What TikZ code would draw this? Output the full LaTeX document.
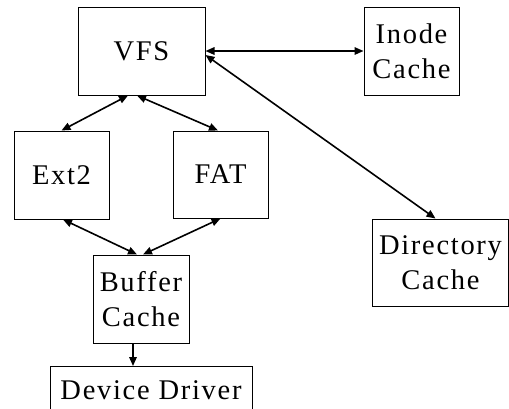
\documentclass[tikz,border=0pt]{standalone}
\usepackage{fontspec}
\setmainfont{Liberation Serif}[LetterSpace=6]
\usetikzlibrary{arrows.meta,calc}

\begin{document}
\begin{tikzpicture}[x=1pt,y=-1pt,
  font=\fontsize{28.5}{35}\selectfont,
  box/.style={draw, line width=1pt, inner sep=0pt, align=center},
  link/.style={line width=1.6pt},
  >={Triangle[length=9pt,width=7.5pt]}]
  \useasboundingbox (0,0) rectangle (509,408);
  \clip (0,0) rectangle (509,408);

  % boxes
  \node[box, minimum width=127pt, minimum height=88pt] (vfs)   at (141.5,51)    {VFS};
  \node[box, minimum width=95pt,  minimum height=88pt] (inode) at (411.5,51)    {Inode\\Cache};
  \node[box, minimum width=95pt,  minimum height=88pt] (ext)   at (61.5,175)    {Ext2};
  \node[box, minimum width=95pt,  minimum height=87pt] (fat)   at (220.5,174.5) {FAT};
  \node[box, minimum width=136pt, minimum height=87pt] (dir)   at (440.5,262.5) {Directory\\Cache};
  \node[box, minimum width=96pt,  minimum height=88pt] (buf)   at (141,299)     {Buffer\\Cache};
  \node[box, minimum width=202pt, minimum height=88pt, anchor=north] (dev) at (151,366) {};
  \node (devlabel) at ($(dev.north)+(0,24)$) {Device Driver};

  % connections
  \draw[link,<->] (vfs.east) -- (inode.west);
  \draw[link,<->] ([yshift=-4pt]vfs.east) -- ([xshift=-5pt]dir.north);
  \draw[link,<->] ([xshift=-13.5pt]vfs.south) -- (ext.north);
  \draw[link,<->] ([xshift=-4.5pt]vfs.south) -- ([xshift=-2.5pt]fat.north);
  \draw[link,<->] ([xshift=1.5pt]ext.south) -- ([xshift=-4pt]buf.north);
  \draw[link,<->] (fat.south) -- ([xshift=2pt]buf.north);
  \draw[link,->] ([xshift=-8pt]buf.south) -- ([xshift=-8pt]buf.south |- dev.north);
\end{tikzpicture}
\end{document}
